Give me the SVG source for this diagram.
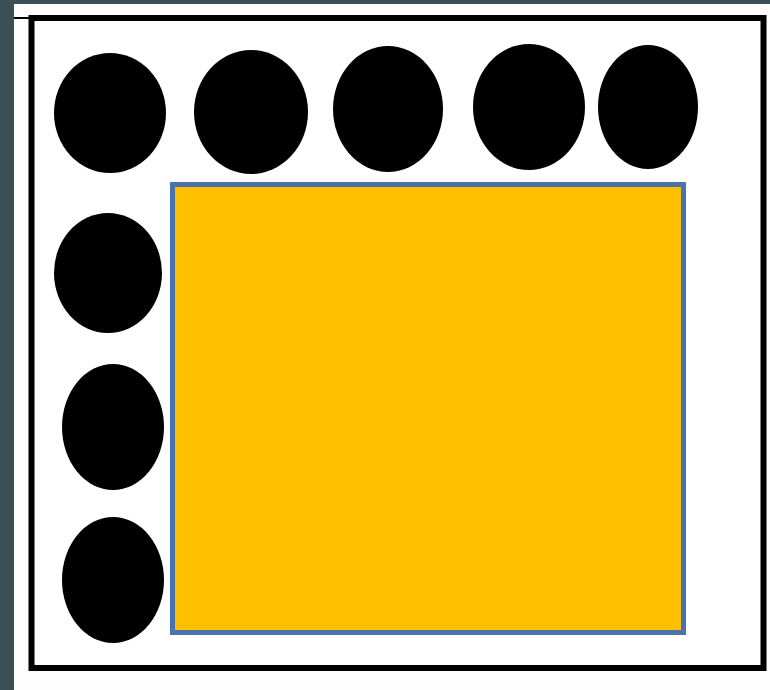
<svg xmlns="http://www.w3.org/2000/svg" width="770" height="690" viewBox="0 0 770 690">
<style>
.dot{fill:#000000}
</style>
<rect x="0" y="0" width="770" height="690" fill="#3c4e56"/>
<rect x="14" y="4" width="756" height="686" fill="#fdfdfd"/>
<line x1="14" y1="18" x2="32" y2="18" stroke="#000" stroke-width="2"/>
<rect x="31.5" y="18" width="732" height="650" fill="#ffffff" stroke="#000000" stroke-width="6"/>
<g id="board">
<rect x="172.5" y="184.5" width="511" height="448" fill="#ffc000" stroke="#4a72ad" stroke-width="5"/>
</g>
<g id="c1"><ellipse class="dot" cx="110" cy="113" rx="56" ry="60"/></g>
<g id="c2"><ellipse class="dot" cx="251" cy="112" rx="57" ry="62"/></g>
<g id="c3"><ellipse class="dot" cx="388" cy="109" rx="55" ry="63"/></g>
<g id="c4"><ellipse class="dot" cx="529" cy="107" rx="56" ry="63"/></g>
<g id="c5"><ellipse class="dot" cx="648" cy="107" rx="50" ry="62"/></g>
<g id="c6"><ellipse class="dot" cx="108" cy="273" rx="54" ry="60"/></g>
<g id="c7"><ellipse class="dot" cx="113" cy="427" rx="51" ry="63"/></g>
<g id="c8"><ellipse class="dot" cx="113" cy="580" rx="51" ry="63"/></g>
<g id="connectors"></g>
</svg>
